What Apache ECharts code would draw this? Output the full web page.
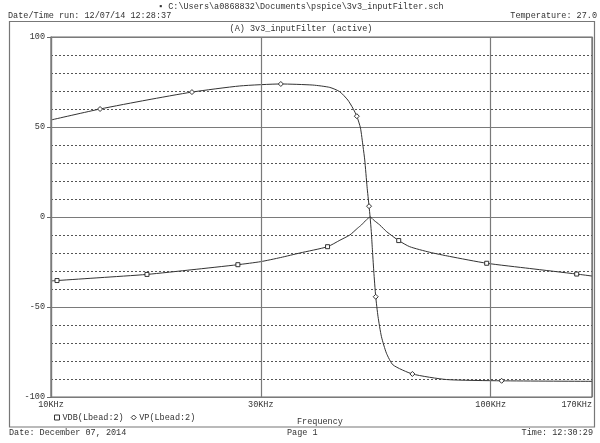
<!DOCTYPE html>
<html><head><meta charset="utf-8">
<script src="https://cdn.jsdelivr.net/npm/echarts@6/dist/echarts.min.js"></script>
<style>html,body{margin:0;padding:0;background:#fff}#c{width:600px;height:443px}</style>
</head><body><div id="c"></div>
<script>
const FONT = '"Liberation Mono", "DejaVu Sans Mono", monospace';
const FS = 8.5;
const TXT = '#333';

// x tick marks (frequency, Hz) and their labels
const xTickFreqs = [10000, 30000, 100000, 170000];
const xTickLabels = ['10KHz', '30KHz', '100KHz', '170KHz'];

// VDB(Lbead:2) : magnitude in dB
const vdbFreq  = [10000, 10320, 12930, 16530, 20920, 26610, 30000, 33300, 36810, 42560, 45400, 47820, 49860, 50830, 52200, 53200, 54300, 55930, 58020, 61780, 65440, 72680, 80660, 97930, 122650, 156900, 170000];
const vdbValue = [-35.5, -35.3, -33.7, -31.9, -29.3, -26.5, -24.8, -22.5, -20.0, -16.5, -12.9, -10.0, -6.1, -4.4, -1.5, 0.0, -1.9, -4.4, -8.2, -13.1, -16.5, -19.6, -21.9, -25.7, -28.6, -31.7, -32.8];
const vdbMarkerIdx = [1, 3, 5, 9, 19, 23, 25];

// VP(Lbead:2) : phase in degrees
const vpFreq  = [10000, 12930, 16530, 20920, 26880, 33320, 39400, 43060, 45380, 47320, 48580, 49610, 50570, 51260, 51710, 52340, 52890, 53180, 53510, 53790, 54210, 54770, 55440, 56440, 57940, 59980, 66370, 79320, 105900, 170000];
const vpValue = [53.9, 60.0, 65.0, 69.4, 72.8, 73.9, 73.3, 72.0, 69.6, 65.0, 60.5, 56.0, 49.4, 39.0, 31.7, 16.8, 6.0, 0.0, -8.0, -17.0, -30.0, -44.3, -55.4, -66.5, -75.7, -82.2, -87.2, -90.3, -91.0, -91.3];
const vpMarkerIdx = [1, 3, 5, 11, 16, 21, 26, 28];

function build(freq, vals, marks, sym) {
  return freq.map((f, i) => ({ value: [f, vals[i]], symbol: marks.includes(i) ? sym : 'none' }));
}

function txt(text, x, y, align) {
  return { type: 'text', silent: true, style: { text, x, y, fill: TXT, fontSize: FS, fontFamily: FONT,
    textAlign: align, align: align, textVerticalAlign: 'middle', verticalAlign: 'middle' } };
}

const chart = echarts.init(document.getElementById('c'), null, { renderer: 'canvas' });
chart.setOption({
  animation: false,
  backgroundColor: '#fff',
  grid: { left: 51, right: 8, top: 37, bottom: 46, show: true, borderColor: '#6a6a6a', borderWidth: 1.2, backgroundColor: 'transparent' },
  xAxis: {
    type: 'log', logBase: 10, min: 10000, max: 170000,
    axisLine: { show: false }, axisTick: { show: false }, axisLabel: { show: false },
    splitLine: { show: false }, minorTick: { show: false }, minorSplitLine: { show: false }
  },
  yAxis: {
    type: 'value', min: -100, max: 100, interval: 50,
    axisLine: { show: true, lineStyle: { color: '#6a6a6a', width: 1.2 } },
    axisTick: { show: true, length: 4, lineStyle: { color: '#6a6a6a' } },
    axisLabel: { margin: 6, color: TXT, fontFamily: FONT, fontSize: FS },
    splitLine: { show: true, lineStyle: { color: '#7a7a7a', width: 1.2 } },
    minorTick: { show: false, splitNumber: 5 },
    minorSplitLine: { show: true, lineStyle: { color: '#555', width: 1, type: [2, 2] } }
  },
  legend: {
    left: 49, top: 408, itemWidth: 5, itemHeight: 5, itemGap: 7,
    textStyle: { color: TXT, fontFamily: FONT, fontSize: FS, padding: [0, 0, 0, -2] },
    itemStyle: { color: '#fff', borderColor: '#333', borderWidth: 1 },
    data: [ { name: 'VDB(Lbead:2)', icon: 'rect' }, { name: 'VP(Lbead:2)', icon: 'diamond' } ]
  },
  series: [
    {
      name: 'VDB(Lbead:2)', type: 'line', smooth: 0.2, symbolSize: 4,
      showSymbol: true, lineStyle: { color: '#333', width: 1 },
      itemStyle: { color: '#fff', borderColor: '#333', borderWidth: 1 },
      emphasis: { disabled: true },
      data: build(vdbFreq, vdbValue, vdbMarkerIdx, 'rect'),
      markLine: {
        silent: true, symbol: ['none', 'none'], animation: false,
        lineStyle: { color: '#7a7a7a', width: 1.2, type: 'solid' },
        label: { position: 'start', distance: 3, color: TXT, fontFamily: FONT, fontSize: FS },
        emphasis: { disabled: true },
        data: xTickFreqs.map((f, i) => ({ xAxis: f, label: { formatter: xTickLabels[i], align: i === xTickFreqs.length - 1 ? 'right' : 'center' } }))
      }
    },
    {
      name: 'VP(Lbead:2)', type: 'line', smooth: 0.2, symbolSize: 5,
      showSymbol: true, lineStyle: { color: '#333', width: 1 },
      itemStyle: { color: '#fff', borderColor: '#333', borderWidth: 1 },
      emphasis: { disabled: true },
      data: build(vpFreq, vpValue, vpMarkerIdx, 'diamond')
    }
  ],
  graphic: [
    { type: 'rect', silent: true, shape: { x: 9.5, y: 21.5, width: 585, height: 405.5 }, style: { fill: 'none', stroke: '#777', lineWidth: 1.2 } },
    txt('\u25AA C:\\Users\\a0868832\\Documents\\pspice\\3v3_inputFilter.sch', 158, 7, 'left'),
    txt('Date/Time run: 12/07/14 12:28:37', 8, 16, 'left'),
    txt('Temperature: 27.0', 597, 16, 'right'),
    txt('(A) 3v3_inputFilter (active)', 301, 28.5, 'center'),
    txt('Frequency', 297, 422, 'left'),
    txt('Date: December 07, 2014', 9, 433, 'left'),
    txt('Page 1', 287, 433, 'left'),
    txt('Time: 12:30:29', 593, 433, 'right')
  ]
});
</script>
</body></html>
